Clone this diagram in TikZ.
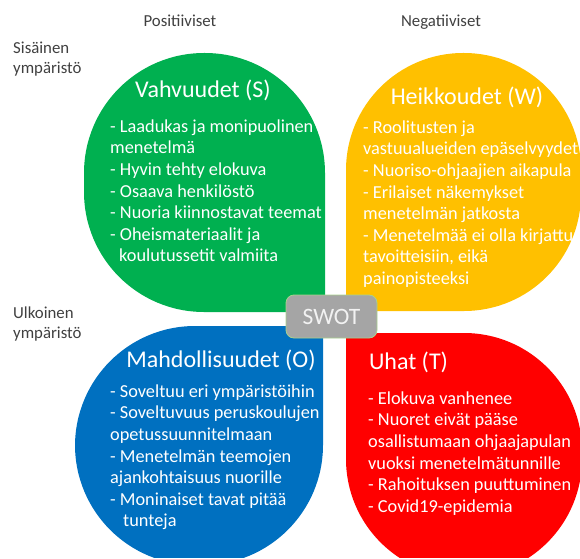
\documentclass[tikz,border=0pt]{standalone}
\usepackage{fontspec}
\setmainfont{Carlito}
\definecolor{swotgreen}{HTML}{00B050}
\definecolor{swotyellow}{HTML}{FFC000}
\definecolor{swotblue}{HTML}{0070C0}
\definecolor{swotred}{HTML}{FF0000}
\definecolor{swotgray}{HTML}{A5A5A5}
\definecolor{swotedge}{HTML}{A9D18E}
\definecolor{sidetext}{HTML}{404040}

\tikzset{
  quadtitle/.style={text=white, anchor=base, inner sep=0pt, font=\fontsize{24}{28}\selectfont},
  quaditems/.style={text=white, align=left, anchor=north west, inner sep=0pt, font=\fontsize{18.3}{21.6}\selectfont},
  sidelabel/.style={text=sidetext, align=left, inner sep=0pt, font=\fontsize{16.8}{20}\selectfont},
}

\begin{document}
\begin{tikzpicture}[x=1pt, y=1pt]
  \useasboundingbox (0,0) rectangle (580,558);
  % otsikot
  \node[sidelabel, anchor=base] (pos) at (180,531.5) {Positiiviset};
  \node[sidelabel, anchor=base] (neg) at (441,531.5) {Negatiiviset};
  \node[sidelabel, anchor=north west] (sis) at (13,519) {\strut Sisäinen\\ympäristö};
  \node[sidelabel, anchor=north west] (ulk) at (13,254) {\strut Ulkoinen\\ympäristö};
  % vahvuudet
  \begin{scope}
    \clip (325,246) -- (204,246) arc[start angle=270, end angle=180, radius=120]
      -- (84,385) arc[start angle=180, end angle=90, radius=120]
      -- (205,505) arc[start angle=90, end angle=0, radius=120] -- cycle;
    \fill[swotgreen] (0,0) rectangle (580,558);
    \node[quadtitle] (s) at (203,460.5) {Vahvuudet (S)};
    \node[quaditems] (slist) at (110,441) {\strut - Laadukas ja monipuolinen\\menetelmä\\- Hyvin tehty elokuva\\- Osaava henkilöstö\\- Nuoria kiinnostavat teemat\\- Oheismateriaalit ja\\\hspace*{9pt}koulutussetit valmiita};
  \end{scope}
  % heikkoudet
  \begin{scope}
    \clip (346,247) -- (346,388) arc[start angle=180, end angle=90, radius=117]
      -- (464,505) arc[start angle=90, end angle=0, radius=117]
      -- (581,364) arc[start angle=0, end angle=-90, radius=117] -- cycle;
    \fill[swotyellow] (0,0) rectangle (580,558);
    \node[quadtitle] (w) at (467,453.5) {Heikkoudet (W)};
    \node[quaditems] (wlist) at (363,440) {\strut - Roolitusten ja\\vastuualueiden epäselvyydet\\- Nuoriso-ohjaajien aikapula\\- Erilaiset näkemykset\\menetelmän jatkosta\\- Menetelmää ei olla kirjattu\\tavoitteisiin, eikä\\painopisteeksi};
  \end{scope}
  % mahdollisuudet
  \begin{scope}
    \clip (323,232) -- (195,232) arc[start angle=90, end angle=180, radius=120]
      -- (75,113) arc[start angle=180, end angle=270, radius=120]
      -- (203,-7) arc[start angle=270, end angle=360, radius=120] -- cycle;
    \fill[swotblue] (0,0) rectangle (580,558);
    \node[quadtitle] (o) at (221,190.5) {Mahdollisuudet (O)};
    \node[quaditems] (olist) at (110,176) {\strut - Soveltuu eri ympäristöihin\\- Soveltuvuus peruskoulujen\\opetussuunnitelmaan\\- Menetelmän teemojen\\ajankohtaisuus nuorille\\- Moninaiset tavat pitää\\\hspace*{13pt}tunteja};
  \end{scope}
  % uhat
  \begin{scope}
    \clip (346,225) -- (464,225) arc[start angle=90, end angle=0, radius=118]
      -- (582,99) arc[start angle=0, end angle=-90, radius=118]
      arc[start angle=270, end angle=180, radius=118] -- cycle;
    \fill[swotred] (0,0) rectangle (580,558);
    \node[quadtitle] (t) at (408.5,188.5) {Uhat (T)};
    \node[quaditems] (tlist) at (368,169) {\strut - Elokuva vanhenee\\- Nuoret eivät pääse\\osallistumaan ohjaajapulan\\vuoksi menetelmätunnille\\- Rahoituksen puuttuminen\\- Covid19-epidemia};
  \end{scope}
  % keskus
  \node[draw=swotedge, line width=0.8pt, fill=swotgray, rounded corners=8pt,
    minimum width=91pt, minimum height=43pt, inner sep=0pt, text=white!95!black,
    font=\fontsize{23.5}{26}\selectfont] (swot) at (331.5,241.5) {SWOT};
\end{tikzpicture}
\end{document}
